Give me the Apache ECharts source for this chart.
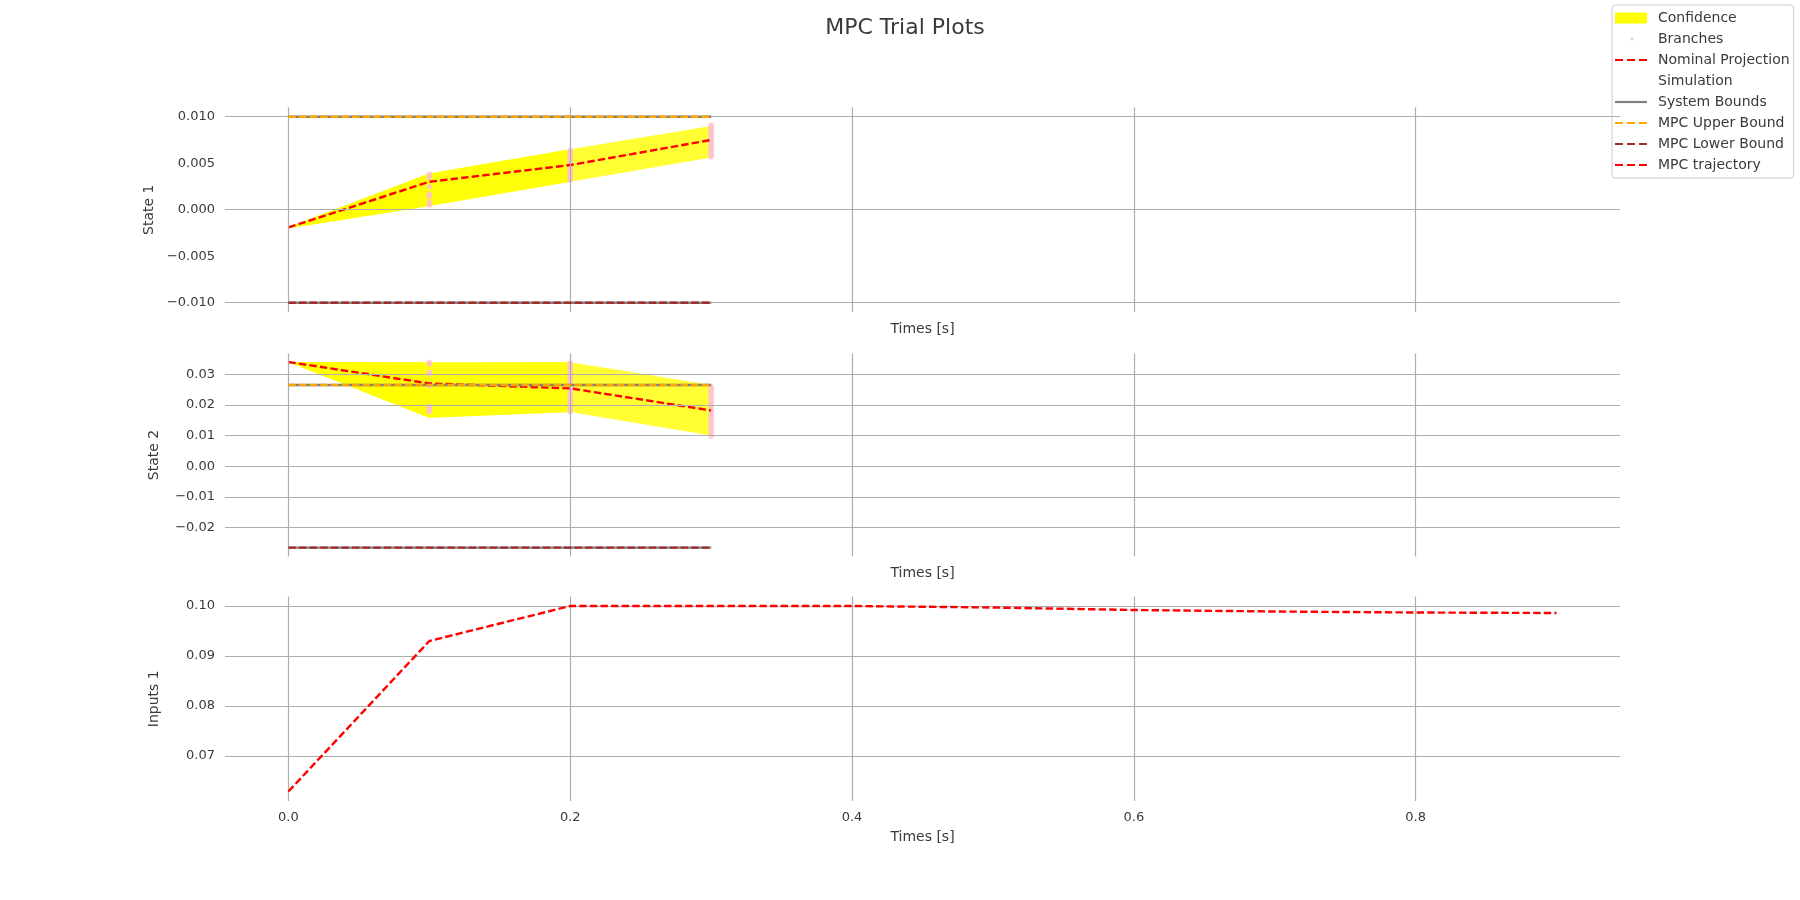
<!DOCTYPE html>
<html><head><meta charset="utf-8">
<script src="https://cdn.jsdelivr.net/npm/echarts@6/dist/echarts.min.js"></script>
<style>html,body{margin:0;padding:0;background:#fff}#c{width:1800px;height:900px}</style>
</head><body><div id="c"></div><script>
// ---------- data ----------
const times = [0, 0.1, 0.2, 0.3];
const inputTimes = [0, 0.1, 0.2, 0.3, 0.4, 0.5, 0.6, 0.7, 0.8, 0.9];

const s1Nominal = [-0.0019, 0.0030, 0.0048, 0.0075];
const s1Upper   = [-0.0019, 0.0039, 0.0065, 0.0090];
const s1Lower   = [-0.0020, 0.0004, 0.0030, 0.0056];
const s1Bounds  = [-0.010, 0.010];
const s1Br0 = [];
const s1Br1 = [0.0038, 0.0034, 0.0025, 0.0017, 0.0014, 0.0008, 0.0005];
const s1Br2 = [0.0064, 0.0062, 0.0060, 0.0058, 0.0056, 0.0054, 0.0052, 0.0050, 0.0048, 0.0046, 0.0044, 0.0042, 0.0040, 0.0038, 0.0036, 0.0034, 0.0032];
const s1Br3 = [0.0091, 0.0089, 0.0087, 0.0085, 0.0083, 0.0081, 0.0079, 0.0077, 0.0075, 0.0073, 0.0071, 0.0069, 0.0067, 0.0065, 0.0063, 0.0061, 0.0059, 0.0057];

const s2Nominal = [0.0340, 0.0270, 0.0254, 0.0182];
const s2Upper   = [0.0340, 0.0338, 0.0339, 0.0265];
const s2Lower   = [0.0340, 0.0158, 0.0177, 0.0100];
const s2Bounds  = [-0.0265, 0.0265];
const s2Br0 = [];
const s2Br1 = [0.0338, 0.0333, 0.0307, 0.0301, 0.0268, 0.0262, 0.0196, 0.0190, 0.0184, 0.0178];
const s2Br2 = [0.0337, 0.0330, 0.0322, 0.0314, 0.0306, 0.0298, 0.0290, 0.0282, 0.0274, 0.0266, 0.0258, 0.0250, 0.0242, 0.0234, 0.0226, 0.0218, 0.0210, 0.0202, 0.0194, 0.0186, 0.0178];
const s2Br3 = [0.0259, 0.0251, 0.0243, 0.0235, 0.0227, 0.0219, 0.0211, 0.0203, 0.0195, 0.0187, 0.0179, 0.0171, 0.0163, 0.0155, 0.0147, 0.0139, 0.0131, 0.0123, 0.0115, 0.0107, 0.0099];

const inputs = [0.0629, 0.0930, 0.1000, 0.1000, 0.1000, 0.0997, 0.0992, 0.0989, 0.0987, 0.0986];

const xTicks  = [0.0, 0.2, 0.4, 0.6, 0.8];
const s1Ticks = [-0.010, -0.005, 0.000, 0.005, 0.010];
const s2Ticks = [-0.02, -0.01, 0.00, 0.01, 0.02, 0.03];
const u1Ticks = [0.07, 0.08, 0.09, 0.10];

// ---------- helpers ----------
const FONT = 'DejaVu Sans';
const TXT = '#3a3a3a';
const GRIDC = '#aeaeae';
const DASH = [7.4, 3.2];

function fmt(ticks, dec) {
  return function (v) {
    for (const t of ticks) {
      if (Math.abs(v - t) < 1e-9) return (t < -1e-12 ? '\u2212' : '') + Math.abs(t).toFixed(dec);
    }
    return '';
  };
}
function pts(xs, ys) { return xs.map((x, i) => [x, ys[i]]); }
function brPts(t, arr) { return arr.map(v => [t, v]); }

function gridSeries(i, yTicks) {
  return {
    type: 'line', xAxisIndex: i, yAxisIndex: i, data: [], z: 1, silent: true,
    markLine: {
      silent: true, symbol: ['none', 'none'], animation: false,
      label: { show: false },
      lineStyle: { color: GRIDC, width: 1.2, type: 'solid' },
      emphasis: { disabled: true },
      data: yTicks.map(v => ({ yAxis: v })).concat(xTicks.map(v => ({ xAxis: v })))
    }
  };
}
function bandSeries(i, upper, lower) {
  return {
    name: 'Confidence', type: 'custom', xAxisIndex: i, yAxisIndex: i, z: 2, silent: true,
    data: [[times[0], upper[0]]],
    encode: { x: 0, y: 1 },
    renderItem: function (params, api) {
      const children = [];
      for (let k = times.length; k >= 2; k--) {
        const p = [];
        for (let j = 0; j < k; j++) p.push(api.coord([times[j], upper[j]]));
        for (let j = k - 1; j >= 0; j--) p.push(api.coord([times[j], lower[j]]));
        children.push({ type: 'polygon', shape: { points: p }, style: { fill: 'rgba(255,255,0,0.8)' } });
      }
      return { type: 'group', children: children };
    }
  };
}
function branchSeries(i, arrs) {
  let d = [];
  arrs.forEach((a, k) => { d = d.concat(brPts(times[k], a)); });
  return {
    name: 'Branches', type: 'scatter', xAxisIndex: i, yAxisIndex: i, z: 3, silent: true,
    symbol: 'circle', symbolSize: 5.5, itemStyle: { color: '#ffc0cb' }, data: d
  };
}
function lineSeries(name, i, data, color, dashed, z, w) {
  return {
    name: name, type: 'line', xAxisIndex: i, yAxisIndex: i, z: z, silent: true,
    symbol: 'none', showSymbol: false, data: data,
    lineStyle: { color: color, width: w || 2.4, type: dashed ? DASH : 'solid' },
    itemStyle: { color: color }
  };
}
function boundsSeries(i, b) {
  const t0 = times[0], t1 = times[times.length - 1];
  return [
    lineSeries('System Bounds', i, [[t0, b[1]], [t1, b[1]]], '#808080', false, 5, 2.4),
    lineSeries('System Bounds', i, [[t0, b[0]], [t1, b[0]]], '#808080', false, 5, 2.4),
    lineSeries('MPC Upper Bound', i, [[t0, b[1]], [t1, b[1]]], '#ffa500', true, 6, 2.4),
    lineSeries('MPC Lower Bound', i, [[t0, b[0]], [t1, b[0]]], '#a52a2a', true, 6, 2.4)
  ];
}

function svgIcon(inner) {
  return 'image://data:image/svg+xml;charset=utf-8,' + encodeURIComponent(
    '<svg xmlns="http://www.w3.org/2000/svg" width="38" height="14" viewBox="0 0 38 14">' + inner + '</svg>');
}
const dashIcon = c => svgIcon('<line x1="0" y1="7" x2="32" y2="7" stroke="' + c + '" stroke-width="2.2" stroke-dasharray="8,4"/>');
const solidIcon = c => svgIcon('<line x1="0" y1="7" x2="32" y2="7" stroke="' + c + '" stroke-width="2.2"/>');

// ---------- layout ----------
const LEFT = 225, WIDTH = 1395;
const grids = [
  { left: LEFT, width: WIDTH, top: 107.4, height: 204.6 },
  { left: LEFT, width: WIDTH, top: 353.4, height: 203.1 },
  { left: LEFT, width: WIDTH, top: 596.5, height: 204.5 }
];

function xAxis(i, showLabels, nameGap) {
  return {
    type: 'value', gridIndex: i, min: -0.045, max: 0.945, interval: 0.005,
    name: 'Times [s]', nameLocation: 'middle', nameGap: nameGap,
    nameTextStyle: { fontFamily: FONT, fontSize: 14, color: TXT },
    axisLine: { show: false }, axisTick: { show: false }, splitLine: { show: false },
    axisLabel: { show: showLabels, margin: 10, fontFamily: FONT, fontSize: 13, color: TXT, formatter: fmt(xTicks, 1) }
  };
}
function yAxis(i, name, min, max, interval, ticks, dec) {
  return {
    type: 'value', gridIndex: i, min: min, max: max, interval: interval,
    name: name, nameLocation: 'middle', nameGap: 64,
    nameTextStyle: { fontFamily: FONT, fontSize: 14, color: TXT },
    axisLine: { show: false }, axisTick: { show: false }, splitLine: { show: false },
    axisLabel: { margin: 10, fontFamily: FONT, fontSize: 13, color: TXT, formatter: fmt(ticks, dec) }
  };
}

const series = [
  gridSeries(0, s1Ticks),
  bandSeries(0, s1Upper, s1Lower),
  branchSeries(0, [s1Br0, s1Br1, s1Br2, s1Br3]),
  lineSeries('Nominal Projection', 0, pts(times, s1Nominal), '#ff0000', true, 4),
  ...boundsSeries(0, s1Bounds),

  gridSeries(1, s2Ticks),
  bandSeries(1, s2Upper, s2Lower),
  branchSeries(1, [s2Br0, s2Br1, s2Br2, s2Br3]),
  lineSeries('Nominal Projection', 1, pts(times, s2Nominal), '#ff0000', true, 4),
  ...boundsSeries(1, s2Bounds),

  gridSeries(2, u1Ticks),
  { name: 'Simulation', type: 'line', xAxisIndex: 2, yAxisIndex: 2, data: [], symbol: 'none' },
  lineSeries('MPC trajectory', 2, pts(inputTimes, inputs), '#ff0000', true, 7)
];

const option = {
  animation: false,
  backgroundColor: '#ffffff',
  title: {
    text: 'MPC Trial Plots', left: 900, top: 12, textAlign: 'center',
    textStyle: { fontFamily: FONT, fontSize: 22, fontWeight: 'normal', color: TXT }
  },
  legend: {
    orient: 'vertical', left: 1612, top: 5, selectedMode: false,
    padding: [6, 4, 6, 3], itemGap: 7, itemWidth: 38, itemHeight: 14,
    backgroundColor: 'rgba(255,255,255,0.8)', borderColor: '#cccccc', borderWidth: 1, borderRadius: 3,
    textStyle: { fontFamily: FONT, fontSize: 14, color: TXT },
    data: [
      { name: 'Confidence', icon: svgIcon('<rect x="0" y="1.5" width="32" height="11" fill="#ffff00"/>') },
      { name: 'Branches', icon: svgIcon('<rect x="15.5" y="5.5" width="3" height="3" fill="#ffc0cb"/>') },
      { name: 'Nominal Projection', icon: dashIcon('#ff0000') },
      { name: 'Simulation', icon: svgIcon('') },
      { name: 'System Bounds', icon: solidIcon('#808080') },
      { name: 'MPC Upper Bound', icon: dashIcon('#ffa500') },
      { name: 'MPC Lower Bound', icon: dashIcon('#a52a2a') },
      { name: 'MPC trajectory', icon: dashIcon('#ff0000') }
    ]
  },
  grid: grids,
  xAxis: [xAxis(0, false, 10), xAxis(1, false, 10), xAxis(2, true, 29)],
  yAxis: [
    yAxis(0, 'State 1', -0.011, 0.011, 0.001, s1Ticks, 3),
    yAxis(1, 'State 2', -0.0294, 0.0368, 0.0002, s2Ticks, 2),
    yAxis(2, 'Inputs 1', 0.0610, 0.1019, 0.0001, u1Ticks, 2)
  ],
  series: series
};

const chart = echarts.init(document.getElementById('c'), null, { renderer: 'canvas' });
chart.setOption(option);
</script></body></html>
